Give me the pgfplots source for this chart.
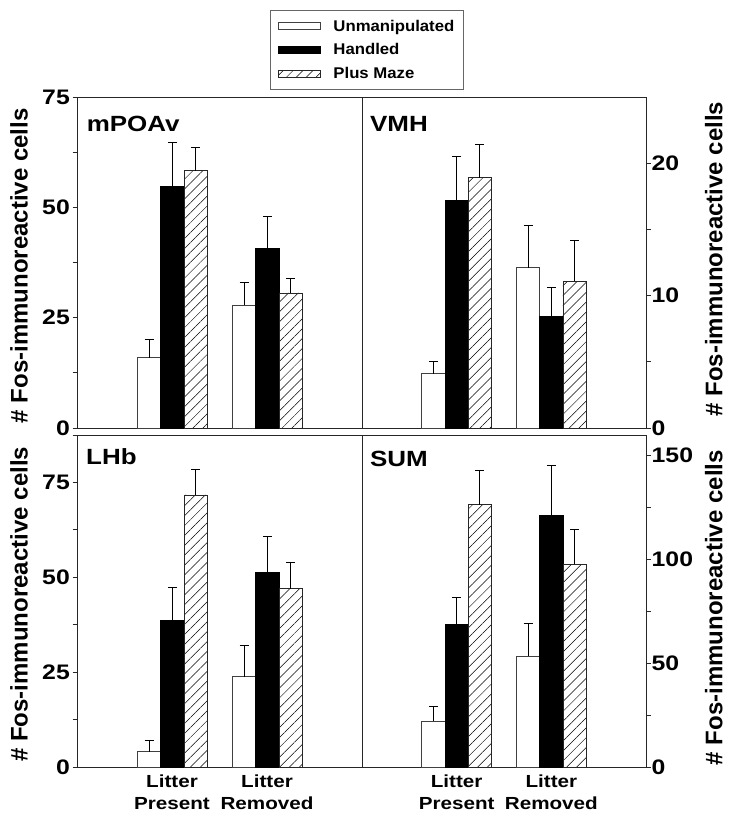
\documentclass[border=0pt]{standalone}
\usepackage{pgfplots}
\pgfplotsset{compat=1.18}
\usetikzlibrary{patterns.meta}
\usepackage{fontspec}
\setmainfont{Liberation Sans}
\newfontfamily\hfont{Liberation Sans}[FakeStretch=1.18]
\newfontfamily\lfont{Liberation Sans}[FakeStretch=1.08]
\newfontfamily\vfont{Liberation Sans}
\newcommand{\tickfont}{\hfont\bfseries\fontsize{21}{21}\selectfont}
\newcommand{\panelfont}{\hfont\bfseries\fontsize{22}{22}\selectfont}
\newcommand{\xlabfont}{\hfont\bfseries\fontsize{17.5}{22}\selectfont}
\newcommand{\legfont}{\lfont\bfseries\fontsize{15.5}{15.5}\selectfont}
\newcommand{\ylabfont}{\vfont\bfseries\fontsize{24}{24}\selectfont}
\pgfplotsset{
  panel/.style={
    width=285pt, height=331pt, scale only axis,
    xmin=0, xmax=3, ymin=0,
    ybar, bar width=0.245, bar shift=0pt,
    axis line style={black!85, line width=0.8pt},
    tick align=outside,
    major tick length=4.5pt, minor tick length=4.5pt,
    every tick/.style={black!85, line width=0.8pt},
    /pgf/number format/assume math mode=true,
    yticklabel style={font=\tickfont},
    xticklabel style={font=\xlabfont, align=center},
    x tick style={draw=none},
    xtick=\empty,
    legend image code/.code={\draw[##1] (0pt,-3.5pt) rectangle (42pt,3.5pt);},
  },
  leftpanel/.style={ytick pos=left, yticklabel style={inner xsep=2.5pt}},
  rightpanel/.style={ytick pos=right, yticklabel style={inner xsep=1pt}},
  errs/.style={error bars/.cd, y dir=plus, y explicit,
    error bar style={black, line width=0.8pt},
    error mark=-,
    error mark options={rotate=90, black, mark size=4.5pt, line width=0.8pt}},
  um/.style={fill=white, draw=black!75, line width=0.8pt, errs},
  hd/.style={fill=black, draw=black, line width=0.8pt, errs},
  pm/.style={draw=black!85, line width=0.8pt,
    pattern={Lines[angle=45,distance=7pt,line width=0.5pt]}, errs},
}
\begin{document}
\begin{tikzpicture}
\useasboundingbox (0,0) rectangle (729pt,819pt);
% top left: mPOAv
\begin{axis}[panel, leftpanel, at={(77pt,391pt)}, anchor=south west,
  ymax=75, ytick={0,25,50,75}, minor ytick={12.5,37.5,62.5},
  legend style={at={(axis description cs:1.0175,1.142)}, anchor=center,
    draw=black!60, line width=0.8pt, font=\legfont, cells={anchor=west},
    row sep=7pt, inner xsep=7pt, inner ysep=7pt,
    /tikz/every odd column/.append style={column sep=11pt}},
  clip=false]
\addplot[um] coordinates {(0.76,15.9) +- (0,4.2) (1.76,27.8) +- (0,5.1)};
\addplot[hd] coordinates {(1.005,54.7) +- (0,10.1) (2.005,40.6) +- (0,7.4)};
\addplot[pm] coordinates {(1.25,58.3) +- (0,5.3) (2.25,30.6) +- (0,3.3)};
\legend{Unmanipulated, Handled, Plus Maze}
\node[anchor=base west, font=\panelfont] at (axis description cs:0.022,0.897) {mPOAv};
\node[font=\ylabfont, rotate=90] at (axis description cs:-0.2035,0.49) {\# Fos-immunoreactive cells};
\end{axis}
% top right: VMH
\begin{axis}[panel, rightpanel, at={(362pt,391pt)}, anchor=south west,
  width=284pt, ymax=25, ytick={0,10,20}, minor ytick={5,15}, clip=false]
\addplot[um] coordinates {(0.755,4.1) +- (0,0.9) (1.755,12.1) +- (0,3.2)};
\addplot[hd] coordinates {(1.0,17.2) +- (0,3.3) (2.0,8.4) +- (0,2.2)};
\addplot[pm] coordinates {(1.245,18.9) +- (0,2.5) (2.245,11.1) +- (0,3.1)};
\node[anchor=base west, font=\panelfont] at (axis description cs:0.016,0.897) {VMH};
\node[font=\ylabfont, rotate=90] at (axis description cs:1.239,0.51) {\# Fos-immunoreactive cells};
\end{axis}
% bottom left: LHb
\begin{axis}[panel, leftpanel, at={(77pt,52pt)}, anchor=south west,
  height=332pt, ymax=87.5, ytick={0,25,50,75}, minor ytick={12.5,37.5,62.5,87.5},
  xtick={1,2}, xticklabels={Litter\\Present, Litter\\Removed}, clip=false]
\addplot[um] coordinates {(0.76,4.0) +- (0,3.0) (1.76,23.8) +- (0,8.2)};
\addplot[hd] coordinates {(1.005,38.6) +- (0,8.8) (2.005,51.3) +- (0,9.4)};
\addplot[pm] coordinates {(1.25,71.7) +- (0,6.7) (2.25,47.0) +- (0,7.0)};
\node[anchor=base west, font=\panelfont] at (axis description cs:0.02,0.91) {LHb};
\node[font=\ylabfont, rotate=90] at (axis description cs:-0.2035,0.49) {\# Fos-immunoreactive cells};
\end{axis}
% bottom right: SUM
\begin{axis}[panel, rightpanel, at={(362pt,52pt)}, anchor=south west,
  width=284pt, height=332pt, ymax=160, ytick={0,50,100,150}, minor ytick={25,75,125},
  xtick={1,2}, xticklabels={Litter\\Present, Litter\\Removed}, clip=false]
\addplot[um] coordinates {(0.755,22.2) +- (0,7.1) (1.755,53.5) +- (0,15.7)};
\addplot[hd] coordinates {(1.0,68.5) +- (0,13.0) (2.0,121.3) +- (0,23.9)};
\addplot[pm] coordinates {(1.245,126.4) +- (0,16.6) (2.245,97.6) +- (0,16.9)};
\node[anchor=base west, font=\panelfont] at (axis description cs:0.016,0.906) {SUM};
\node[font=\ylabfont, rotate=90] at (axis description cs:1.239,0.48) {\# Fos-immunoreactive cells};
\end{axis}
\end{tikzpicture}
\end{document}
